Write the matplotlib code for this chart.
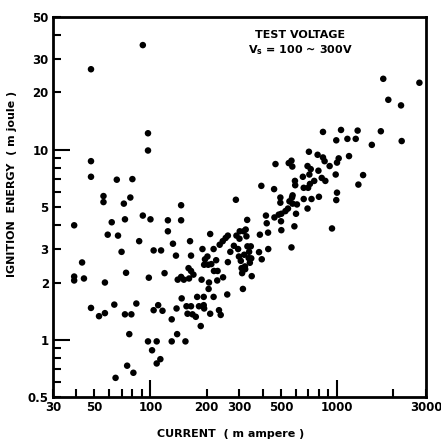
import matplotlib
matplotlib.use("Agg")
import matplotlib.pyplot as plt
from matplotlib.ticker import FixedLocator, NullFormatter

current_mA = [
    39, 39, 39, 43, 44, 48, 48, 48, 48, 53, 56, 56, 57, 57, 59, 62, 64, 65, 66, 67,
    70, 72, 73, 74, 73, 75, 77, 78, 79, 80, 81, 84, 87, 91, 91, 97, 97, 97, 98, 100,
    102, 104, 104, 108, 108, 110, 113, 114, 116, 119, 124, 124, 130, 130, 132, 137, 138, 139, 140, 146,
    146, 146, 147, 151, 154, 156, 158, 160, 161, 163, 165, 165, 165, 168, 175, 178, 186, 188, 190, 193,
    193, 194, 194, 196, 202, 204, 205, 206, 209, 209, 218, 218, 219, 225, 229, 233, 235, 238, 245, 244,
    253, 258, 260, 260, 280, 287, 289, 295, 298, 301, 305, 308, 310, 313, 316, 318, 321, 324, 327, 330,
    331, 336, 338, 341, 345, 349, 347, 382, 386, 393, 395, 416, 420, 427, 428, 460, 468, 462, 487, 497,
    497, 501, 503, 503, 529, 546, 551, 556, 570, 570, 574, 578, 578, 576, 591, 595, 597, 603, 610, 656,
    663, 663, 695, 695, 700, 707, 711, 716, 723, 730, 755, 787, 795, 800, 828, 841, 841, 858, 866, 913,
    940, 984, 991, 991, 1000, 1000, 1021, 1051, 1137, 1160, 1260, 1290, 1302, 1380, 1537, 1718, 1770, 1884,
    2204, 2222, 2765,
    170, 182, 212, 228, 268, 300, 322,
]
energy_mJ = [
    4.0, 2.15, 2.05, 2.55, 2.1, 26.5, 8.7, 7.2, 1.47, 1.33, 5.7, 5.3, 2.0, 1.38, 3.57, 4.15, 1.53, 0.63, 6.95, 3.53,
    2.9, 5.2, 4.3, 2.25, 1.36, 0.73, 1.07, 5.6, 1.36, 7.0, 0.67, 1.55, 3.3, 35.5, 4.5, 12.2, 9.9, 0.98, 2.12, 4.3,
    0.88, 2.95, 1.43, 0.98, 0.75, 1.52, 0.79, 2.95, 1.42, 2.24, 4.25, 3.72, 1.28, 0.98, 3.2, 2.77, 1.46, 1.07, 2.07, 5.1,
    4.25, 2.14, 1.65, 2.07, 0.98, 1.5, 1.37, 2.38, 2.1, 3.3, 2.77, 1.5, 2.3, 1.36, 1.32, 1.68, 1.18, 2.07, 3.0, 1.68,
    1.52, 1.46, 2.48, 2.65, 2.74, 2.48, 1.85, 2.0, 3.6, 1.37, 1.68, 3.0, 2.3, 2.62, 2.3, 1.43, 3.16, 1.35, 2.13, 3.3,
    3.43, 1.73, 2.56, 3.53, 3.12, 5.45, 3.53, 3.0, 2.74, 3.72, 2.6, 2.38, 2.24, 1.85, 3.72, 2.8, 2.43, 3.8, 3.5, 4.27,
    3.1, 2.69, 2.9, 2.54, 3.1, 2.16, 2.68, 2.89, 3.57, 6.45, 2.65, 4.5, 4.1, 3.66, 3.0, 6.2, 8.4, 4.4, 4.55, 5.6,
    5.26, 4.2, 3.77, 4.6, 4.75, 4.9, 8.5, 5.35, 8.75, 3.06, 5.6, 5.75, 5.2, 8.15, 3.95, 6.85, 6.5, 4.6, 5.15, 7.2,
    6.3, 5.5, 8.2, 4.9, 6.3, 9.75, 7.4, 6.6, 7.9, 5.5, 6.85, 9.4, 7.75, 5.65, 7.1, 12.4, 9.1, 8.7, 6.85, 8.2,
    3.85, 7.4, 11.2, 5.43, 5.94, 8.55, 9.0, 12.7, 11.4, 9.25, 11.4, 12.6, 6.55, 7.35, 10.6, 12.5, 23.6, 18.3,
    17.1, 11.1, 22.5,
    2.2, 1.5, 2.5, 2.05, 2.9, 3.4, 2.35,
]

x_major = [30, 50, 100, 200, 300, 500, 1000, 3000]
x_major_labels = ["30", "50", "100", "200", "300", "500", "1000", "3000"]
x_minor = [40, 60, 70, 80, 90, 400, 600, 700, 800, 900, 2000]
y_major = [0.5, 1, 2, 3, 5, 10, 20, 30, 50]
y_major_labels = ["0.5", "1", "2", "3", "5", "10", "20", "30", "50"]
y_minor = [0.6, 0.7, 0.8, 0.9, 4, 6, 7, 8, 9, 40]

fig = plt.figure(figsize=(4.41, 4.43), dpi=100)
ax = fig.add_axes([0.120, 0.104, 0.846, 0.858])
ax.scatter(current_mA, energy_mJ, s=22, color="black", edgecolors="none", zorder=3)
ax.set_xscale("log")
ax.set_yscale("log")
ax.set_xlim(30, 3000)
ax.set_ylim(0.5, 50)

ax.xaxis.set_major_locator(FixedLocator(x_major))
ax.set_xticklabels(x_major_labels)
ax.xaxis.set_minor_locator(FixedLocator(x_minor))
ax.xaxis.set_minor_formatter(NullFormatter())
ax.yaxis.set_major_locator(FixedLocator(y_major))
ax.set_yticklabels(y_major_labels)
ax.yaxis.set_minor_locator(FixedLocator(y_minor))
ax.yaxis.set_minor_formatter(NullFormatter())

ax.tick_params(which="both", direction="in", top=False, right=False, width=1.5, colors="black")
ax.tick_params(which="major", length=6, labelsize=8.5, pad=3)
ax.tick_params(which="minor", length=6)
for lab in ax.get_xticklabels() + ax.get_yticklabels():
    lab.set_fontweight("bold")

# longer ticks at decades
for i, v in enumerate(x_major):
    if v in (100, 1000):
        ax.xaxis.get_major_ticks()[i].tick1line.set_markersize(12)
for i, v in enumerate(y_major):
    if v in (1, 10):
        ax.yaxis.get_major_ticks()[i].tick1line.set_markersize(12)

for sp in ax.spines.values():
    sp.set_linewidth(2)
    sp.set_color("black")

ax.text(0.662, 0.966, "TEST VOLTAGE", transform=ax.transAxes, ha="center", va="top",
        fontsize=8, fontweight="bold")
ax.text(0.662, 0.930, "V$_{\\mathbf{s}}$ = 100 ~ 300V", transform=ax.transAxes, ha="center", va="top",
        fontsize=8, fontweight="bold")

ax.set_xlabel("CURRENT  ( m ampere )", fontsize=8, fontweight="bold")
ax.xaxis.set_label_coords(0.475, -0.085)
ax.set_ylabel("IGNITION  ENERGY  ( m joule )", fontsize=8, fontweight="bold")
ax.yaxis.set_label_coords(-0.095, 0.56)

fig.savefig("out.png", dpi=100)
